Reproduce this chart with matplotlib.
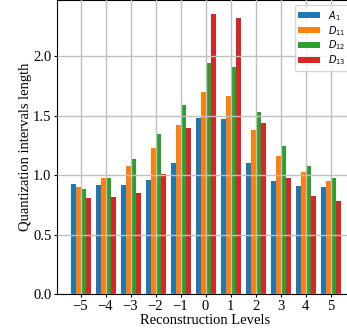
import numpy as np
import matplotlib.pyplot as plt

levels = [-5, -4, -3, -2, -1, 0, 1, 2, 3, 4, 5]
a1 = [0.924, 0.915, 0.916, 0.958, 1.101, 1.479, 1.471, 1.101, 0.950, 0.908, 0.899]
d11 = [0.899, 0.975, 1.076, 1.227, 1.420, 1.697, 1.664, 1.378, 1.160, 1.025, 0.950]
d12 = [0.882, 0.975, 1.134, 1.345, 1.588, 1.941, 1.908, 1.529, 1.244, 1.076, 0.975]
d13 = [0.807, 0.815, 0.849, 1.008, 1.395, 2.353, 2.319, 1.437, 0.975, 0.824, 0.782]
series = [('$A_1$', a1), ('$D_{11}$', d11), ('$D_{12}$', d12), ('$D_{13}$', d13)]

plt.rcParams['font.family'] = ['Liberation Serif', 'DejaVu Serif']
plt.rcParams['mathtext.fontset'] = 'dejavusans'

fig = plt.figure(figsize=(3.47, 3.35), dpi=100)
ax = fig.add_axes([57 / 347, 41 / 335, 297 / 347, 294 / 335])

x = np.array(levels)
w = 0.2
for i, (name, vals) in enumerate(series):
    ax.bar(x + (i - 1.5) * w, vals, width=w, label=name, zorder=1)

ax.grid(True, color='#c0c0c0', linewidth=1.0, zorder=2)
ax.set_axisbelow(False)
ax.set_xticks(levels)
ax.set_yticks([0.0, 0.5, 1.0, 1.5, 2.0])
ax.tick_params(labelsize=10.5, length=2.5, pad=1.5)
ax.set_xlabel('Reconstruction Levels', fontsize=10.5, labelpad=1)
ax.set_ylabel('Quantization intervals length', fontsize=10.5, labelpad=1)

leg = ax.legend(loc='upper right', prop={'family': 'DejaVu Sans', 'size': 7},
                borderaxespad=0.5, labelspacing=0.12, handlelength=2.2,
                handleheight=0.6)
leg.set_zorder(5)

fig.savefig('out.png', dpi=100)
